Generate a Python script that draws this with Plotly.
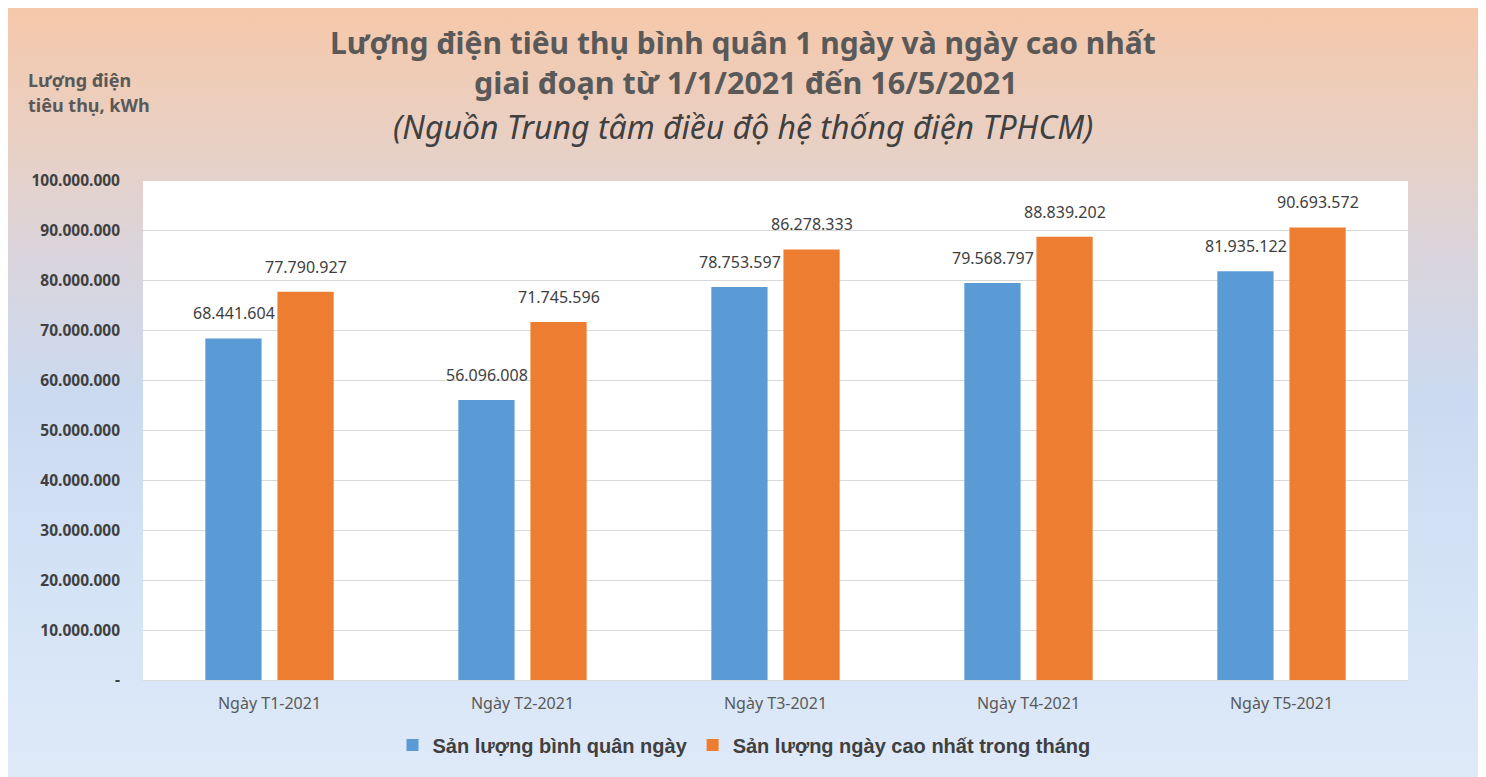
import base64

import plotly.graph_objects as go

# data
categories = ["Ngày T1-2021", "Ngày T2-2021", "Ngày T3-2021", "Ngày T4-2021", "Ngày T5-2021"]
avg_daily = [68441604, 56096008, 78753597, 79568797, 81935122]
peak_daily = [77790927, 71745596, 86278333, 88839202, 90693572]
series_names = ["Sản lượng bình quân ngày", "Sản lượng ngày cao nhất trong tháng"]
y_tickvals = [0, 10000000, 20000000, 30000000, 40000000, 50000000,
              60000000, 70000000, 80000000, 90000000, 100000000]
y_ticktext = ["-", "10.000.000", "20.000.000", "30.000.000", "40.000.000", "50.000.000",
              "60.000.000", "70.000.000", "80.000.000", "90.000.000", "100.000.000"]

W, H = 1486, 777
# the page body has an 8px margin, so the figure is drawn shifted by 8px
OFF = 8
# plot area in window pixels
PX0, PX1, PY0, PY1 = 143, 1408, 181, 680
ML, MT = PX0 - OFF, PY0 - OFF
MR, MB = W + OFF - PX1, H + OFF - PY1
PW, PH = PX1 - PX0, PY1 - PY0

BLUE = "#5B9BD5"
ORANGE = "#ED7D31"
TEXT = "#404040"
GREY = "#595959"
FONT = "Noto Sans"
BAR_SHIFT = 36  # px from category centre to each bar centre


def _px_x(sx):
    return (sx - PX0) / PW


def _px_y(sy):
    return (PY1 - sy) / PH


def _fmt(v):
    return f"{v:,}".replace(",", ".")


# background gradient (peach at top -> light blue at bottom) as an svg image
svg = f"""<svg xmlns="http://www.w3.org/2000/svg" width="{W}" height="{H}" viewBox="0 0 {W} {H}" preserveAspectRatio="none">
<defs><linearGradient id="g" x1="0" y1="0" x2="0" y2="1">
<stop offset="0" stop-color="#f6c8aa"/>
<stop offset="0.2" stop-color="#e6d1c8"/>
<stop offset="0.32" stop-color="#dad4dc"/>
<stop offset="0.5" stop-color="#cbdaf0"/>
<stop offset="0.75" stop-color="#d4e3f6"/>
<stop offset="1" stop-color="#dfeaf8"/>
</linearGradient></defs>
<rect x="0" y="0" width="{W}" height="{H}" fill="url(#g)"/>
</svg>"""
bg_src = "data:image/svg+xml;base64," + base64.b64encode(svg.encode("utf-8")).decode("ascii")

fig = go.Figure()
for name, vals, color in zip(series_names, [avg_daily, peak_daily], [BLUE, ORANGE]):
    fig.add_trace(
        go.Bar(
            x=categories,
            y=vals,
            name=name,
            marker=dict(color=color, line=dict(width=0)),
            hoverinfo="skip",
        )
    )

# value labels above the bars
value_labels = []
for vals, shift in zip([avg_daily, peak_daily], [-BAR_SHIFT, BAR_SHIFT]):
    for cat, v in zip(categories, vals):
        value_labels.append(
            dict(
                text=_fmt(v),
                x=cat, y=v, xref="x", yref="y",
                xshift=shift, yshift=12,
                xanchor="center", yanchor="bottom", showarrow=False,
                font=dict(family=FONT, size=16, color=TEXT),
            )
        )

text_labels = [
    dict(
        text="<b>Lượng điện tiêu thụ bình quân 1 ngày và ngày cao nhất</b>",
        xref="paper", yref="paper", x=_px_x(743), y=_px_y(42),
        xanchor="center", yanchor="middle", showarrow=False,
        font=dict(family=FONT, size=30, color=GREY),
    ),
    dict(
        text="<b>giai đoạn từ 1/1/2021 đến 16/5/2021</b>",
        xref="paper", yref="paper", x=_px_x(746), y=_px_y(82),
        xanchor="center", yanchor="middle", showarrow=False,
        font=dict(family=FONT, size=30.5, color=GREY),
    ),
    dict(
        text="<i>(Nguồn Trung tâm điều độ hệ thống điện TPHCM)</i>",
        xref="paper", yref="paper", x=_px_x(743), y=_px_y(127),
        xanchor="center", yanchor="middle", showarrow=False,
        font=dict(family=FONT, size=32, color=TEXT),
    ),
    dict(
        text="<b>Lượng điện</b>",
        xref="paper", yref="paper", x=_px_x(26), y=_px_y(80),
        xanchor="left", yanchor="middle", showarrow=False,
        font=dict(family=FONT, size=18, color=GREY),
    ),
    dict(
        text="<b>tiêu thụ, kWh</b>",
        xref="paper", yref="paper", x=_px_x(26), y=_px_y(105),
        xanchor="left", yanchor="middle", showarrow=False,
        font=dict(family=FONT, size=18, color=GREY),
    ),
]

fig.update_layout(
    width=W,
    height=H,
    margin=dict(l=ML, r=MR, t=MT, b=MB, pad=0),
    barmode="group",
    bargap=0.43,
    bargroupgap=0.22,
    paper_bgcolor="#dfeaf8",
    plot_bgcolor="white",
    showlegend=True,
    legend=dict(
        orientation="h",
        x=_px_x(744),
        xanchor="center",
        y=_px_y(745),
        yanchor="middle",
        font=dict(family="Liberation Sans", size=20, color=TEXT, weight="bold"),
        bgcolor="rgba(0,0,0,0)",
        itemwidth=30,
        traceorder="normal",
    ),
    images=[
        dict(
            source=bg_src,
            xref="paper",
            yref="paper",
            x=_px_x(OFF),
            y=_px_y(OFF),
            sizex=W / PW,
            sizey=H / PH,
            xanchor="left",
            yanchor="top",
            sizing="stretch",
            layer="below",
        )
    ],
    shapes=[
        dict(
            type="rect",
            xref="x domain",
            yref="y domain",
            x0=0,
            x1=1,
            y0=0,
            y1=1,
            fillcolor="white",
            line=dict(width=0),
            layer="below",
        )
    ],
    annotations=text_labels + value_labels,
)

fig.update_xaxes(
    showgrid=False,
    showline=True,
    linecolor="#d9d9d9",
    linewidth=1,
    ticks="",
    tickfont=dict(family=FONT, size=16, color=GREY),
    ticklabelstandoff=9,
)
fig.update_yaxes(
    range=[0, 100000000],
    tickvals=y_tickvals,
    ticktext=y_ticktext,
    showgrid=True,
    gridcolor="#d9d9d9",
    gridwidth=1,
    zeroline=False,
    showline=False,
    ticks="",
    tickfont=dict(family=FONT, size=15.5, color=TEXT, weight="bold"),
    ticklabelstandoff=22,
)

fig.write_html("out.html")
